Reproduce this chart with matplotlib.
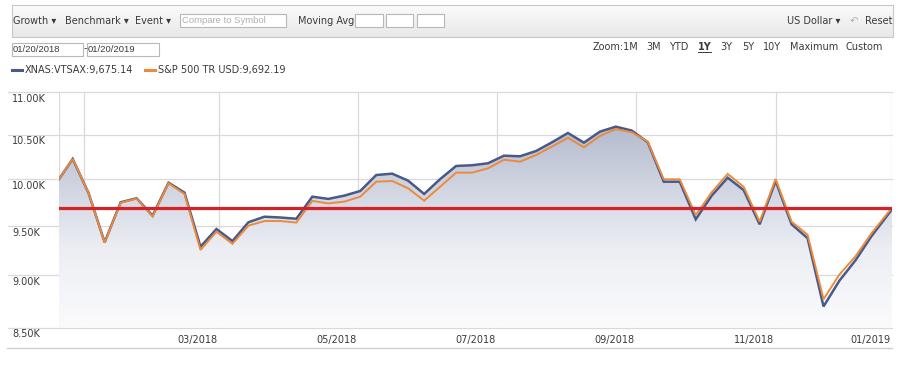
import numpy as np
import pandas as pd
import matplotlib
matplotlib.use('Agg')
import matplotlib.pyplot as plt
import matplotlib.transforms as mtransforms
from matplotlib.patches import Rectangle
from matplotlib.lines import Line2D
from matplotlib.colors import LinearSegmentedColormap
from matplotlib.ticker import NullLocator

plt.rcParams['font.family'] = ['DejaVu Sans']

# ---------------- data ----------------
start_date = '2018-01-20'
end_date = '2019-01-20'
weekly_dates = list(pd.date_range('2018-01-26', '2019-01-11', freq='7D'))
dates = [pd.Timestamp(start_date)] + weekly_dates + [pd.Timestamp(end_date)]

vtsax = [10000, 10223, 9846, 9332, 9750, 9793, 9608, 9961, 9853, 9287,
         9469, 9345, 9539, 9597, 9589, 9576, 9810, 9786, 9821, 9871,
         10045, 10060, 9983, 9839, 10000, 10145, 10153, 10175, 10260, 10253,
         10312, 10411, 10518, 10407, 10533, 10591, 10545, 10411, 9972, 9972,
         9570, 9821, 10016, 9881, 9518, 9980, 9518, 9375, 8700, 8950,
         9150, 9395, 9675.14]
sp500 = [10000, 10223, 9846, 9328, 9745, 9790, 9600, 9955, 9838, 9254,
         9441, 9317, 9504, 9552, 9552, 9536, 9765, 9738, 9757, 9810,
         9972, 9980, 9900, 9767, 9917, 10071, 10071, 10119, 10215, 10193,
         10267, 10362, 10463, 10354, 10483, 10563, 10526, 10418, 9998, 9998,
         9615, 9857, 10057, 9917, 9545, 10002, 9545, 9410, 8770, 9010,
         9190, 9424, 9692.19]

y_ticks = [8500, 9000, 9500, 10000, 10500, 11000]
grid_dates = ['2018-01-31', '2018-03-31', '2018-05-31', '2018-07-31',
              '2018-09-30', '2018-11-30']
x_labels = ['03/2018', '05/2018', '07/2018', '09/2018', '11/2018', '01/2019']
x_label_dates = ['2018-03-31', '2018-05-31', '2018-07-31', '2018-09-30',
                 '2018-11-30', end_date]

series_names = ['XNAS:VTSAX', 'S&P 500 TR USD']
final_values = ['9,675.14', '9,692.19']

# ---------------- figure ----------------
W, H = 900, 384
fig = plt.figure(figsize=(W / 100, H / 100), dpi=100)
fig.patch.set_facecolor('white')

TXT = '#3a3a3a'
GRID = '#d9d9d9'
BLUE = '#4a5a88'
ORANGE = '#ec8a3c'


def fx(x):
    return x / W


def fy(y):
    return 1 - y / H


def ftext(x, y, s, **kw):
    kw.setdefault('va', 'center')
    kw.setdefault('ha', 'left')
    kw.setdefault('color', TXT)
    kw.setdefault('fontsize', 7)
    return fig.text(fx(x), fy(y), s, **kw)


def frect(x0, y0, x1, y1, fc='white', ec='#b8b8b8', lw=0.8):
    fig.add_artist(Rectangle((fx(x0), fy(y1)), (x1 - x0) / W, (y1 - y0) / H,
                             transform=fig.transFigure, fc=fc, ec=ec, lw=lw))


# toolbar with gradient
tb = fig.add_axes([fx(11.7), fy(37.3), (893 - 11.7) / W, (37.3 - 5) / H])
tb_cmap = LinearSegmentedColormap.from_list('tb', ['#fcfcfc', '#e8e8e8'])
tb.imshow(np.linspace(0, 1, 64).reshape(-1, 1), cmap=tb_cmap, aspect='auto',
          extent=[0, 1, 0, 1], origin='upper')
tb.set_xticks([]); tb.set_yticks([])
for s in tb.spines.values():
    s.set_color('#c8c8c8'); s.set_linewidth(0.8)

ftext(12.7, 20.7, 'Growth \u25be')
ftext(65, 20.7, 'Benchmark \u25be')
ftext(135, 20.7, 'Event \u25be')
frect(180, 14, 285.7, 27.3)
ftext(182, 20.7, 'Compare to Symbol', color='#b0b0b0', fontsize=6.8,
      family=['Liberation Sans', 'DejaVu Sans'])
ftext(297.7, 20.7, 'Moving Avg')
frect(355, 14, 382.7, 27.3)
frect(386, 14, 413.3, 27.3)
frect(417.3, 14, 444, 27.3)
ftext(787.3, 20.7, 'US Dollar \u25be')
ftext(850, 20.7, '\u21b6', color='#b0b0b0', fontsize=7.5)
ftext(865, 20.7, 'Reset')

# date range row
frect(11.7, 42.7, 83.3, 55.7)
ftext(12.9, 49.2, '01/20/2018', fontsize=6.8, family=['Liberation Sans', 'DejaVu Sans'])
ftext(83.6, 48.5, '-', fontsize=7)
frect(86.7, 42.7, 159.3, 55.7)
ftext(87.5, 49.2, '01/20/2019', fontsize=6.8, family=['Liberation Sans', 'DejaVu Sans'])

zoom_items = [('Zoom:1M', 592.7), ('3M', 646.7), ('YTD', 669.3), ('1Y', 698.3),
              ('3Y', 720.7), ('5Y', 742.3), ('10Y', 763.3), ('Maximum', 790),
              ('Custom', 845)]
for lab, x in zoom_items:
    if lab == '1Y':
        ftext(x, 47, lab, fontweight='bold')
        fig.add_artist(Line2D([fx(x), fx(x + 12.5)], [fy(52.3), fy(52.3)],
                              transform=fig.transFigure, color=TXT, lw=0.7))
    else:
        ftext(x, 47, lab)

# legend
fig.add_artist(Line2D([fx(11.7), fx(21.7)], [fy(70), fy(70)],
                      transform=fig.transFigure, color=BLUE, lw=2.2))
ftext(25, 70, f'{series_names[0]}:{final_values[0]}')
fig.add_artist(Line2D([fx(145), fx(155)], [fy(70), fy(70)],
                      transform=fig.transFigure, color=ORANGE, lw=2.2))
ftext(157.7, 70, f'{series_names[1]}:{final_values[1]}')

# ---------------- main chart ----------------
x0, x1, ytop, ybot = 59, 892, 92, 327.7
ax = fig.add_axes([fx(x0), fy(ybot), (x1 - x0) / W, (ybot - ytop) / H])
ax.set_facecolor('none')
ax.set_yscale('log')
for s in ax.spines.values():
    s.set_visible(False)

xl = (pd.Timestamp(dates[0]), pd.Timestamp(dates[-1]))

# gridlines
for v in y_ticks:
    ax.axhline(v, xmin=-(x0 - 8) / (x1 - x0), xmax=1, clip_on=False,
               color=GRID, lw=0.9, zorder=0.5)
for d in grid_dates + [xl[0], xl[1]]:
    ax.axvline(pd.Timestamp(d), color=GRID, lw=0.9, zorder=0.5)

# gradient area under VTSAX
poly = ax.fill_between(dates, vtsax, y_ticks[0], facecolor='none',
                       edgecolor='none', zorder=1)
grad_cmap = LinearSegmentedColormap.from_list(
    'g', ['#a3acc4', '#c9cedc', '#eceef3', '#fbfbfd'])
im = ax.imshow(np.linspace(0, 1, 256).reshape(-1, 1), cmap=grad_cmap,
               extent=[0, 1, 0, 1], transform=ax.transAxes, aspect='auto',
               origin='upper', zorder=1)
im.set_clip_path(poly.get_paths()[0], ax.transData)

ax.plot(dates, vtsax, color=BLUE, lw=1.8, zorder=3, solid_joinstyle='miter')
ax.plot(dates, sp500, color=ORANGE, lw=1.4, zorder=3.5, solid_joinstyle='miter')
ax.axhline(sp500[-1], color='#d42228', lw=2.3, zorder=4)

ax.set_xlim(xl)
ax.set_ylim(y_ticks[0], y_ticks[-1])
ax.set_xticks([])
ax.set_yticks([])
ax.yaxis.set_minor_locator(NullLocator())
ax.xaxis.set_minor_locator(NullLocator())

# y labels (below each gridline, at far left)
ytrans = mtransforms.offset_copy(
    mtransforms.blended_transform_factory(fig.transFigure, ax.transData),
    fig=fig, x=0, y=-1.5, units='dots')
for v in y_ticks:
    fig.text(fx(12), v, f'{v / 1000:.2f}K', transform=ytrans, va='top',
             ha='left', fontsize=7, color=TXT)

# x labels, right-aligned to month boundary
xtrans = mtransforms.offset_copy(
    mtransforms.blended_transform_factory(ax.transData, ax.transAxes),
    fig=fig, x=-1.5, y=0, units='dots')
for lab, d in zip(x_labels, x_label_dates):
    ax.text(pd.Timestamp(d), -(340 - ybot) / (ybot - ytop), lab,
            transform=xtrans, ha='right', va='center', fontsize=7, color=TXT)

# bottom axis line
fig.add_artist(Line2D([fx(7), fx(892)], [fy(347.7), fy(347.7)],
                      transform=fig.transFigure, color='#cfcfcf', lw=1))

fig.savefig('out.png', dpi=100, facecolor='white')
